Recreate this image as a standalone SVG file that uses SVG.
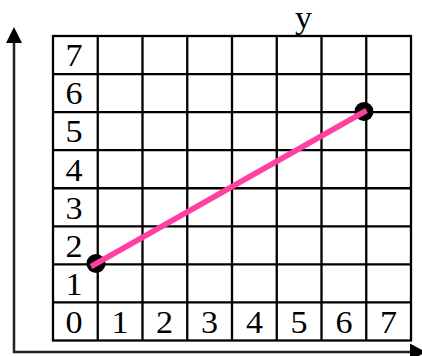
<svg xmlns="http://www.w3.org/2000/svg" width="422" height="356" viewBox="0 0 422 356">
<style>
.grid{stroke:#000;stroke-width:2.3;fill:none}
.axis{stroke:#222;stroke-width:2.5;fill:none}
.lbl{font-family:"Liberation Serif","Times New Roman",serif;font-size:31px;fill:#000;text-anchor:middle}
.dot{fill:#000}
.seg{stroke:#ff40a0;stroke-width:5.5;stroke-linecap:butt;fill:none}
</style>
<rect width="422" height="356" fill="#fff"/>
<g id="axes">
<path class="axis" d="M14 43 V352 H410"/>
<polygon points="14,27 6,43 22,43" fill="#000"/>
<polygon points="426,352 410,343.5 410,360.5" fill="#000"/>
<text class="lbl" transform="translate(303.5 27.5) scale(1.1 1)">y</text>
</g>
<g id="grid">
<rect class="grid" x="53" y="36" width="358" height="304.5"/>
<path class="grid" d="M97.75 36V340.5M142.5 36V340.5M187.25 36V340.5M232 36V340.5M276.75 36V340.5M321.5 36V340.5M366.25 36V340.5M53 74.06H411M53 112.1H411M53 150.2H411M53 188.25H411M53 226.3H411M53 264.4H411M53 302.4H411"/>
</g>
<g id="row-labels">
<text class="lbl" transform="translate(74 65.5) scale(1.1 1)">7</text>
<text class="lbl" transform="translate(74 104) scale(1.1 1)">6</text>
<text class="lbl" transform="translate(74 142) scale(1.1 1)">5</text>
<text class="lbl" transform="translate(74 180.5) scale(1.1 1)">4</text>
<text class="lbl" transform="translate(74 219) scale(1.1 1)">3</text>
<text class="lbl" transform="translate(74 256.5) scale(1.1 1)">2</text>
<text class="lbl" transform="translate(74 294.5) scale(1.1 1)">1</text>
</g>
<g id="col-labels">
<text class="lbl" transform="translate(74 332.5) scale(1.1 1)">0</text>
<text class="lbl" transform="translate(120 332.5) scale(1.1 1)">1</text>
<text class="lbl" transform="translate(164.5 332.5) scale(1.1 1)">2</text>
<text class="lbl" transform="translate(209.5 332.5) scale(1.1 1)">3</text>
<text class="lbl" transform="translate(254.5 332.5) scale(1.1 1)">4</text>
<text class="lbl" transform="translate(299 332.5) scale(1.1 1)">5</text>
<text class="lbl" transform="translate(344 332.5) scale(1.1 1)">6</text>
<text class="lbl" transform="translate(388.5 332.5) scale(1.1 1)">7</text>
</g>
<g id="point-a"><circle class="dot" cx="96" cy="263.5" r="9.5"/></g>
<g id="point-b"><circle class="dot" cx="364" cy="111.5" r="9.5"/></g>
<g id="connectors">
<line class="seg" x1="91" y1="266.5" x2="366.5" y2="110.5"/>
</g>
</svg>
